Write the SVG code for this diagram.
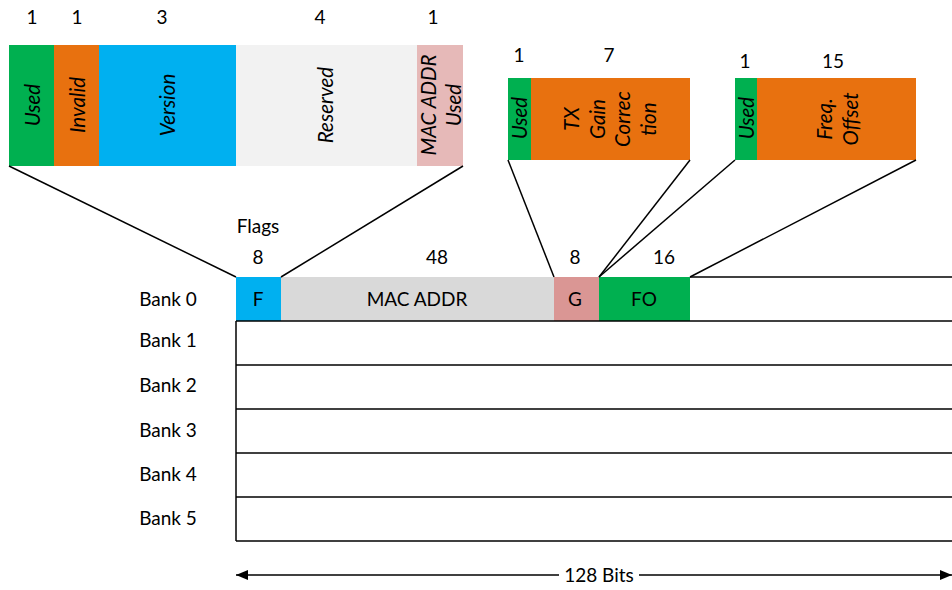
<svg xmlns="http://www.w3.org/2000/svg" width="952" height="590" viewBox="0 0 952 590">
<style>
text{font-family:Lato,"Open Sans","Liberation Sans",sans-serif;font-size:19px;fill:#000}
.c{text-anchor:middle}
.v{text-anchor:middle;font-style:italic;dominant-baseline:central;font-size:20.5px}
.ln{stroke:#000;stroke-width:1.5;fill:none}
</style>
<defs>
<marker id="ah" viewBox="0 0 12 10" refX="12" refY="5" markerWidth="12" markerHeight="10" markerUnits="userSpaceOnUse" orient="auto-start-reverse">
<path d="M0,0 L12,5 L0,10 z" fill="#000"/>
</marker>
</defs>
<g id="flags-detail">
<rect x="9" y="45" width="45" height="121" fill="#00B050"/>
<rect x="54" y="45" width="45" height="121" fill="#E8710F"/>
<rect x="99" y="45" width="137" height="121" fill="#00B0F0"/>
<rect x="236" y="45" width="181" height="121" fill="#F2F2F2"/>
<rect x="417" y="45" width="46" height="121" fill="#E6B9B8"/>
<text class="c" x="32" y="24">1</text>
<text class="c" x="77" y="24">1</text>
<text class="c" x="162" y="24">3</text>
<text class="c" x="320" y="24">4</text>
<text class="c" x="433" y="24">1</text>
<text class="v" transform="translate(32,105) rotate(-90)">Used</text>
<text class="v" transform="translate(77,105) rotate(-90)">Invalid</text>
<text class="v" transform="translate(167,105) rotate(-90)">Version</text>
<text class="v" transform="translate(325,105) rotate(-90)">Reserved</text>
<text class="v" transform="translate(428,105) rotate(-90)">MAC ADDR</text>
<text class="v" transform="translate(453,105) rotate(-90)">Used</text>
</g>
<g id="txgain-detail">
<rect x="508" y="78" width="23" height="82" fill="#00B050"/>
<rect x="531" y="78" width="159" height="82" fill="#E8710F"/>
<text class="c" x="519" y="62">1</text>
<text class="c" x="609" y="62">7</text>
<text class="v" transform="translate(519,118) rotate(-90)">Used</text>
<text class="v" transform="translate(571,119) rotate(-90)">TX</text>
<text class="v" transform="translate(597,119) rotate(-90)">Gain</text>
<text class="v" transform="translate(622,119) rotate(-90)">Correc</text>
<text class="v" transform="translate(648,119) rotate(-90)">tion</text>
</g>
<g id="freq-detail">
<rect x="735" y="78" width="22" height="82" fill="#00B050"/>
<rect x="757" y="78" width="159" height="82" fill="#E8710F"/>
<text class="c" x="745" y="68">1</text>
<text class="c" x="833" y="68">15</text>
<text class="v" transform="translate(746,118) rotate(-90)">Used</text>
<text class="v" transform="translate(824,119) rotate(-90)">Freq.</text>
<text class="v" transform="translate(850,119) rotate(-90)">Offset</text>
</g>
<g id="banks">
<rect x="236" y="277" width="45" height="44" fill="#00B0F0"/>
<rect x="281" y="277" width="273" height="44" fill="#D9D9D9"/>
<rect x="554" y="277" width="45" height="44" fill="#DA9694"/>
<rect x="599" y="277" width="91" height="44" fill="#00B050"/>
<line class="ln" x1="690" y1="277" x2="952" y2="277"/>
<line class="ln" x1="236" y1="321" x2="952" y2="321"/>
<line class="ln" x1="236" y1="365" x2="952" y2="365"/>
<line class="ln" x1="236" y1="409" x2="952" y2="409"/>
<line class="ln" x1="236" y1="453" x2="952" y2="453"/>
<line class="ln" x1="236" y1="497" x2="952" y2="497"/>
<line class="ln" x1="236" y1="541" x2="952" y2="541"/>
<line class="ln" x1="236" y1="321" x2="236" y2="541"/>
<text class="c" x="258" y="306">F</text>
<text class="c" x="417" y="306">MAC ADDR</text>
<text class="c" x="575" y="306">G</text>
<text class="c" x="644" y="306">FO</text>
<text class="c" x="258" y="233">Flags</text>
<text class="c" x="258" y="264">8</text>
<text class="c" x="437" y="264">48</text>
<text class="c" x="575" y="264">8</text>
<text class="c" x="664" y="264">16</text>
<text class="c" x="168" y="306">Bank 0</text>
<text class="c" x="168" y="347">Bank 1</text>
<text class="c" x="168" y="392">Bank 2</text>
<text class="c" x="168" y="437">Bank 3</text>
<text class="c" x="168" y="481">Bank 4</text>
<text class="c" x="168" y="525">Bank 5</text>
</g>
<g id="connectors">
<line class="ln" x1="9" y1="166" x2="236" y2="277"/>
<line class="ln" x1="463" y1="166" x2="281" y2="277"/>
<line class="ln" x1="508" y1="160" x2="554" y2="277"/>
<line class="ln" x1="690" y1="160" x2="599" y2="277"/>
<line class="ln" x1="735" y1="160" x2="599" y2="277"/>
<line class="ln" x1="916" y1="160" x2="690" y2="277"/>
<line class="ln" x1="236" y1="575" x2="559" y2="575" marker-start="url(#ah)"/>
<line class="ln" x1="639" y1="575" x2="952" y2="575" marker-end="url(#ah)"/>
<text class="c" x="599" y="582">128 Bits</text>
</g>
</svg>
